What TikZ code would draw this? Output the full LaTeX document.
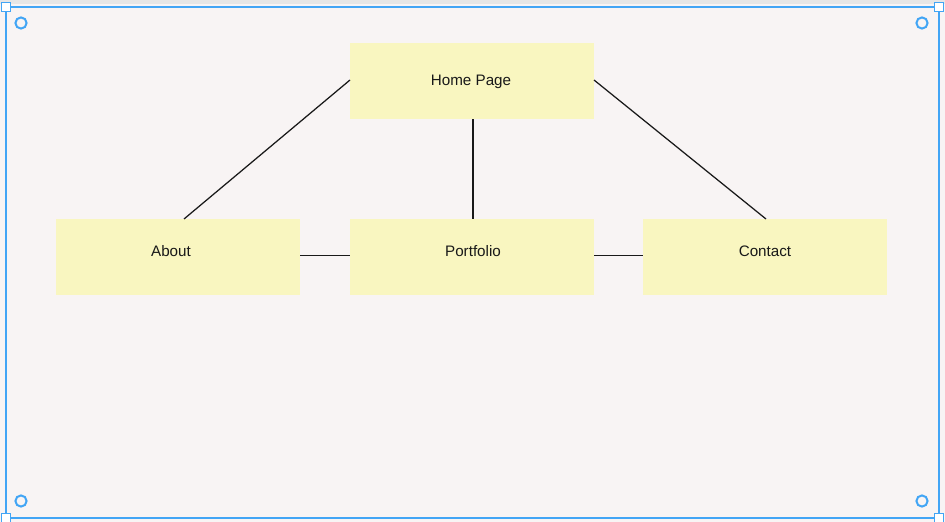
\documentclass[tikz,border=0pt]{standalone}
\usepackage{fontspec}
\setmainfont{Liberation Sans}
\definecolor{bgc}{RGB}{248,244,244}
\definecolor{boxc}{RGB}{249,246,192}
\definecolor{framec}{RGB}{66,165,245}
\definecolor{topc}{RGB}{230,230,230}
\begin{document}
\begin{tikzpicture}[x=1pt,y=-1pt,
  pagebox/.style={fill=boxc,draw=none,minimum width=244pt,minimum height=76pt,inner sep=0pt,anchor=north west},
  lbl/.style={font=\fontsize{15.2}{17}\selectfont,text=black!90,inner sep=0pt},
  conn/.style={draw=black!90,line width=1.25pt},
  handle/.style={draw=framec,line width=1.8pt,fill=white},
  ring/.style={draw=framec,line width=2pt,fill=bgc}]
\useasboundingbox (0,0) rectangle (945,522);
\fill[bgc] (0,0) rectangle (945,522);
\fill[topc] (0,0) rectangle (945,4);
% boxes
\node[pagebox] (home) at (350,43) {};
\node[pagebox] (about) at (56,219) {};
\node[pagebox] (port) at (350,219) {};
\node[pagebox] (cont) at (643,219) {};
% labels
\node[lbl] (homel) at (471,81.5) {Home Page};
\node[lbl] (aboutl) at (171,251.5) {About};
\node[lbl] (portl) at (473,251.5) {Portfolio};
\node[lbl] (contl) at (765,251.5) {Contact};
% connector end points
\coordinate (hL) at (350,80);
\coordinate (hB) at (473,119);
\coordinate (hR) at (594,80);
\coordinate (aT) at (184,219);
\coordinate (pT) at (473,219);
\coordinate (cT) at (766,219);
\coordinate (aR) at (300,255.5);
\coordinate (pL) at (350,255.5);
\coordinate (pR) at (594,255.5);
\coordinate (cL) at (643,255.5);
\draw[conn] (hL) -- (aT);
\draw[conn] (hB) -- (pT);
\draw[conn] (hR) -- (cT);
\draw[conn] (aR) -- (pL);
\draw[conn] (pR) -- (cL);
% selection frame
\draw[framec,line width=2.6pt] (6,7) rectangle (939,518);
\foreach \p/\q in {6/7,939/7,6/518,939/518}
  \draw[handle] (\p-4.5,\q-4.5) rectangle (\p+4.5,\q+4.5);
\foreach \p/\q in {21/23,922/23,21/501,922/501}
  \draw[ring] (\p,\q) circle (5.6);
\end{tikzpicture}
\end{document}
